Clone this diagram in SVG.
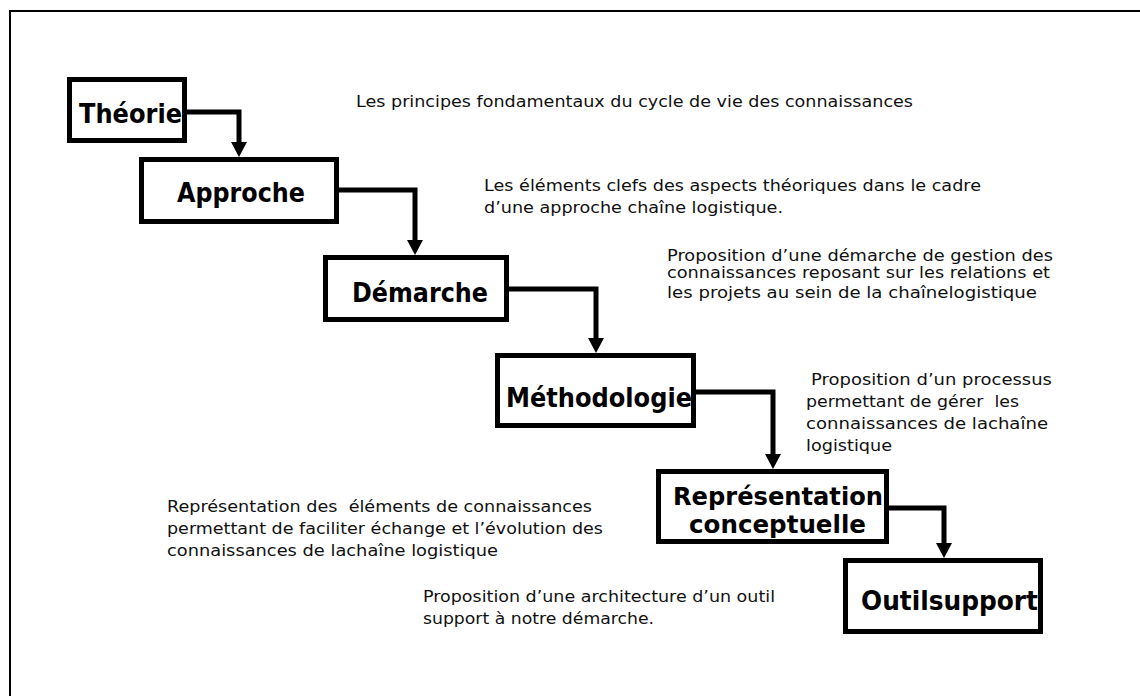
<svg xmlns="http://www.w3.org/2000/svg" width="1140" height="696" viewBox="0 0 1140 696">
<style>
.box{fill:#fff;stroke:#000;stroke-width:5}
.lbl{font-family:"DejaVu Sans","Liberation Sans",sans-serif;font-weight:bold;font-size:27px;fill:#000}
.lbl2{font-family:"DejaVu Sans","Liberation Sans",sans-serif;font-weight:bold;font-size:25px;fill:#000}
.txt{font-family:"DejaVu Sans","Liberation Sans",sans-serif;font-size:15.5px;fill:#111;white-space:pre}
.con{fill:none;stroke:#000;stroke-width:5;stroke-linejoin:miter}
</style>
<defs>
<marker id="ah" markerUnits="userSpaceOnUse" markerWidth="16" markerHeight="16" viewBox="0 -8 16 16" refX="0" refY="0" orient="auto">
<path d="M0,-8 L15,0 L0,8 z" fill="#000"/>
</marker>
</defs>
<rect x="10" y="11" width="1200" height="800" fill="#fff" stroke="#000" stroke-width="2"/>
<g id="connectors">
<path class="con" d="M187,112 H239 V142" marker-end="url(#ah)"/>
<path class="con" d="M339,190 H415 V240" marker-end="url(#ah)"/>
<path class="con" d="M509,289 H596 V338" marker-end="url(#ah)"/>
<path class="con" d="M696,392 H773 V454" marker-end="url(#ah)"/>
<path class="con" d="M889,508 H944 V543" marker-end="url(#ah)"/>
</g>
<g id="theorie">
<rect class="box" x="69.5" y="79.5" width="115" height="61"/>
<text class="lbl" x="79" y="123" textLength="103" lengthAdjust="spacingAndGlyphs">Théorie</text>
</g>
<g id="approche">
<rect class="box" x="141.5" y="159.5" width="195" height="62"/>
<text class="lbl" x="177" y="202" textLength="128" lengthAdjust="spacingAndGlyphs">Approche</text>
</g>
<g id="demarche">
<rect class="box" x="325.5" y="257.5" width="181" height="62"/>
<text class="lbl" x="352" y="302" textLength="136" lengthAdjust="spacingAndGlyphs">Démarche</text>
</g>
<g id="methodologie">
<rect class="box" x="497.5" y="355.5" width="196" height="70"/>
<text class="lbl" x="506" y="407" textLength="186" lengthAdjust="spacingAndGlyphs">Méthodologie</text>
</g>
<g id="representation">
<rect class="box" x="658.5" y="471.5" width="228" height="70"/>
<text class="lbl2" x="673" y="505" textLength="210" lengthAdjust="spacingAndGlyphs">Représentation</text>
<text class="lbl2" x="689" y="533" textLength="177" lengthAdjust="spacingAndGlyphs">conceptuelle</text>
</g>
<g id="outil">
<rect class="box" x="845.5" y="560.5" width="195" height="71"/>
<text class="lbl" x="861" y="610" textLength="177" lengthAdjust="spacingAndGlyphs">Outilsupport</text>
</g>
<g id="texts">
<text class="txt" x="356" y="107" textLength="557" lengthAdjust="spacingAndGlyphs">Les principes fondamentaux du cycle de vie des connaissances</text>
<text class="txt" x="484" y="191" textLength="497" lengthAdjust="spacingAndGlyphs">Les éléments clefs des aspects théoriques dans le cadre</text>
<text class="txt" x="484" y="213" textLength="299" lengthAdjust="spacingAndGlyphs">d’une approche chaîne logistique.</text>
<text class="txt" x="667" y="260.5" textLength="386" lengthAdjust="spacingAndGlyphs">Proposition d’une démarche de gestion des</text>
<text class="txt" x="667" y="277.5" textLength="383" lengthAdjust="spacingAndGlyphs">connaissances reposant sur les relations et</text>
<text class="txt" x="667" y="298" textLength="370" lengthAdjust="spacingAndGlyphs">les projets au sein de la chaînelogistique</text>
<text class="txt" x="811" y="385" textLength="241" lengthAdjust="spacingAndGlyphs">Proposition d’un processus</text>
<text class="txt" x="806" y="407" textLength="213" lengthAdjust="spacingAndGlyphs">permettant de gérer  les</text>
<text class="txt" x="806" y="429" textLength="242" lengthAdjust="spacingAndGlyphs">connaissances de lachaîne</text>
<text class="txt" x="806" y="451" textLength="86" lengthAdjust="spacingAndGlyphs">logistique</text>
<text class="txt" x="167" y="512" textLength="425" lengthAdjust="spacingAndGlyphs">Représentation des  éléments de connaissances</text>
<text class="txt" x="167" y="534" textLength="436" lengthAdjust="spacingAndGlyphs">permettant de faciliter échange et l’évolution des</text>
<text class="txt" x="167" y="556" textLength="331" lengthAdjust="spacingAndGlyphs">connaissances de lachaîne logistique</text>
<text class="txt" x="423" y="602" textLength="352" lengthAdjust="spacingAndGlyphs">Proposition d’une architecture d’un outil</text>
<text class="txt" x="423" y="624" textLength="231" lengthAdjust="spacingAndGlyphs">support à notre démarche.</text>
</g>
</svg>
